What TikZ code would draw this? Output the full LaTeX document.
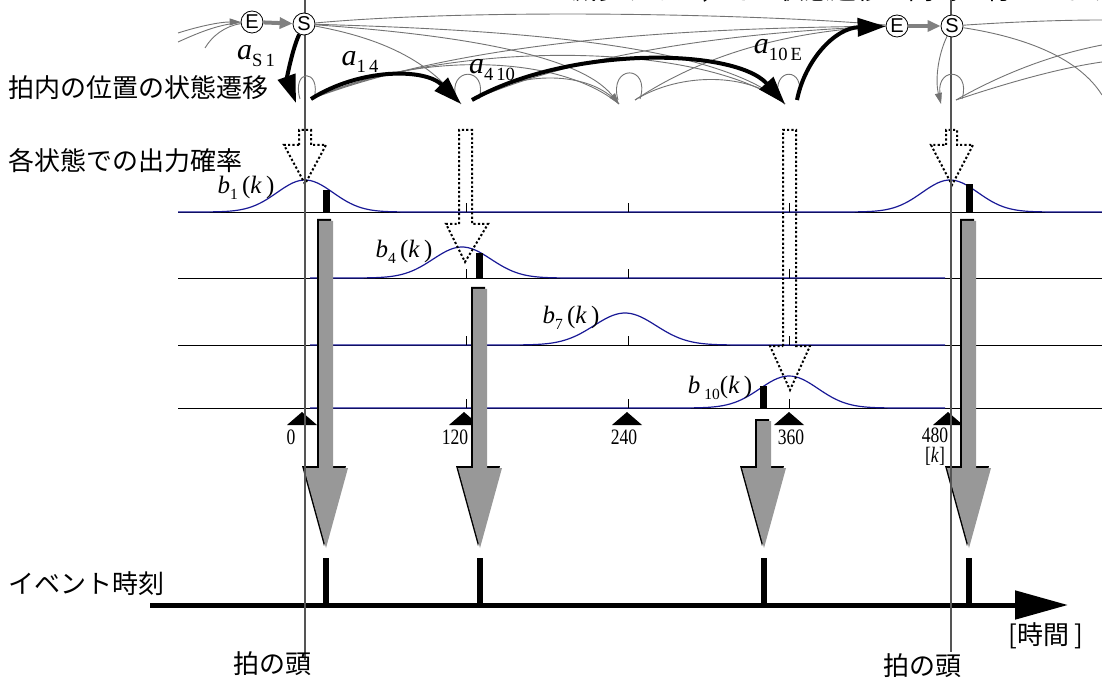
\documentclass[tikz,border=0pt]{standalone}
\usepackage{fontspec}
\setmainfont{Liberation Serif}
\newfontfamily\jpf{Noto Sans CJK JP}
\newfontfamily\sansf{Liberation Sans}
\usetikzlibrary{arrows.meta}
\definecolor{bcurve}{RGB}{25,25,150}
\definecolor{bigg}{RGB}{152,152,152}
\definecolor{thing}{RGB}{115,115,115}
\definecolor{beatc}{RGB}{85,85,85}
\definecolor{esg}{RGB}{128,128,128}
\newcommand\BigGrayArrow[2]{%
 \fill[black] ({#1-9},{#2-2}) -- ({#1+5},{#2-2}) -- ({#1+5},466) -- ({#1+20},466) -- ({#1-2},546) -- ({#1-24},466) -- ({#1-9},466) -- cycle;
 \fill[bigg] ({#1-7},#2) -- ({#1+7},#2) -- ({#1+7},468) -- ({#1+22},468) -- (#1,548) -- ({#1-22},468) -- ({#1-7},468) -- cycle;}
\newcommand\iv[1]{\textit{#1}}
\newcommand\sbs[1]{\raisebox{-0.25em}{\fontsize{0.62em}{0.62em}\selectfont #1}}
\begin{document}
\begin{tikzpicture}[x=1pt,y=-1pt,
  jp/.style={font=\jpf\fontsize{26pt}{26pt}\selectfont,inner sep=0pt},
  lbl/.style={font=\fontsize{22pt}{22pt}\selectfont,inner sep=0pt,xscale=0.8},
  bl/.style={font=\fontsize{25pt}{25pt}\selectfont,inner sep=0pt},
  al/.style={font=\fontsize{30pt}{30pt}\selectfont,inner sep=0pt},
  st/.style={circle,draw,fill=white,inner sep=0pt,minimum size=22pt,line width=0.8pt,font=\sansf\fontsize{20pt}{20pt}\selectfont},
  thk/.style={line width=4pt,-{Triangle[length=28pt,width=18pt]}},
  thn/.style={thing,line width=0.9pt},
  thna/.style={thn,-{Triangle[length=11pt,width=7pt]}},
  esarr/.style={esg,line width=4pt,-{Triangle[length=13pt,width=11pt]}},
  row/.style={black,line width=0.9pt},
  gc/.style={bcurve,line width=1.2pt},
  dotarr/.style={line width=2pt,dash pattern=on 2.2pt off 2.2pt},
  beat/.style={beatc,line width=1.6pt},
]
\useasboundingbox (0,0) rectangle (1102,684);

% clipped top text
\node[jp,anchor=base west] (toptext) at (545,0) {と減少すると，その状態遷移が同時に行われます。};

% rows
\foreach \yy in {212,278,345,408} \draw[row] (178,\yy) -- (1102,\yy);
\draw[gc] (178,212) -- plot[domain=180:430,samples=70] (\x,{212-32*exp(-0.5*((\x-305)/28)*((\x-305)/28))})
  -- plot[domain=825:1075,samples=70] (\x,{212-32*exp(-0.5*((\x-950)/28)*((\x-950)/28))}) -- (1102,212);
\draw[gc] (310,278) -- plot[domain=335:590,samples=70] (\x,{278-31*exp(-0.5*((\x-462)/29)*((\x-462)/29))}) -- (945,278);
\draw[gc] (310,345) -- plot[domain=500:750,samples=70] (\x,{345-32*exp(-0.5*((\x-625)/31)*((\x-625)/31))}) -- (945,345);
\draw[gc] (310,408) -- plot[domain=665:915,samples=70] (\x,{408-32*exp(-0.5*((\x-789)/29)*((\x-789)/29))}) -- (945,408);
\foreach \yy in {212,278,345,408} \foreach \xx in {466,628,789} \draw[line width=0.8pt] (\xx,\yy) -- (\xx,{\yy-9});

% observation bars
\fill (323,190) rectangle (330,212);
\fill (476,253) rectangle (483,278);
\fill (760,386) rectangle (767,408);
\fill (966,184) rectangle (973,212);

% labels b
\node[bl] (b1) at (246,188) {\iv{b}\sbs{1}\,(\iv{k}\,)};
\node[bl] (b4) at (404,252) {\iv{b}\sbs{4}\,(\iv{k}\,)};
\node[bl] (b7) at (571,318) {\iv{b}\sbs{7}\,(\iv{k}\,)};
\node[bl] (b10) at (720,388) {\iv{b}\,\sbs{10}(\iv{k}\,)};

% triangles and tick labels
\foreach \xx in {302,464,627,789,948} \fill ({\xx-15},425) -- (\xx,412) -- ({\xx+15},425) -- cycle;
\node[lbl] (n0) at (291,437) {0};
\node[lbl] (n120) at (455,437) {120};
\node[lbl] (n240) at (624,437) {240};
\node[lbl] (n360) at (791,437) {360};
\node[lbl] (n480) at (935,435) {480};
\node[lbl] (nk) at (935,456) {[\iv{k}]};

% dotted arrows
\draw[dotarr] (299,145) -- (299,130) -- (311,130) -- (311,145) -- (326,145) -- (305,184) -- (284,145) -- cycle;
\draw[dotarr] (459,224) -- (459,130) -- (472,130) -- (472,224) -- (488,224) -- (465,262) -- (446,224) -- cycle;
\draw[dotarr] (783,346) -- (783,130) -- (796,130) -- (796,346) -- (810,346) -- (790,390) -- (770,346) -- cycle;
\draw[dotarr] (946,145) -- (946,130) -- (957,130) -- (957,145) -- (973,145) -- (952,185) -- (931,145) -- cycle;

% big grey arrows
\BigGrayArrow{326}{221}
\BigGrayArrow{480}{289}
\BigGrayArrow{764}{421}
\BigGrayArrow{969}{221}

% time axis
\coordinate (axL) at (150,605);
\coordinate (axR) at (1068,605);
\draw[line width=5pt,-{Triangle[length=53pt,width=28pt]}] (axL) -- (axR);
\foreach \xx in {326,480,764,969} \fill ({\xx-3},558) rectangle ({\xx+3},605);

% beat lines
\coordinate (bt1) at (305,0); \coordinate (bb1) at (305,660);
\coordinate (bt2) at (951,0); \coordinate (bb2) at (951,652);
\draw[beat] (bt1) -- (bb1);
\draw[beat] (bt2) -- (bb2);

% text labels
\node[jp,anchor=west] (lab1) at (8,88) {拍内の位置の状態遷移};
\node[jp,anchor=west] (lab2) at (8,161) {各状態での出力確率};
\node[jp,anchor=west] (lab3) at (8,584) {イベント時刻};
\node[jp] (head1) at (272,664) {拍の頭};
\node[jp] (head2) at (922,666) {拍の頭};
\node[jp,anchor=west] (tunit) at (1008,636) {[時間 ]};

% state coordinates
\coordinate (in1) at (296,103); \coordinate (out1) at (311,99);
\coordinate (in4) at (461,104); \coordinate (out4) at (472,100);
\coordinate (in7) at (619,104); \coordinate (out7) at (635,100);
\coordinate (in10) at (785,104); \coordinate (out10) at (797,100);
\coordinate (in1b) at (941,104); \coordinate (out1b) at (956,100);

% E/S nodes
\node[st] (E1) at (252,22) {E};
\node[st] (S1) at (304,24) {S};
\node[st] (E2) at (897,26) {E};
\node[st] (S2) at (952,26) {S};
\draw[esarr] (E1) -- (S1);
\draw[esarr] (E2) -- (S2);

% thin grey transitions
\draw[thn] (S1) .. controls (480,8) and (760,14) .. (E2);
\draw[thn] (S1) .. controls (380,38) and (430,60) .. (in4);
\draw[thna] (S1) .. controls (460,35) and (580,55) .. (in7);
\draw[thn] (S1) .. controls (520,30) and (720,45) .. (in10);
\draw[thn] (out1) .. controls (420,50) and (560,55) .. (in7);
\draw[thn] (out1) .. controls (450,40) and (700,40) .. (in10);
\draw[thn] (out1) .. controls (480,35) and (720,28) .. (E2);
\draw[thn] (out4) .. controls (520,70) and (590,70) .. (in7);
\draw[thn] (out4) .. controls (600,45) and (780,30) .. (E2);
\draw[thn] (out7) .. controls (680,72) and (750,72) .. (in10);
\draw[thn] (out7) .. controls (710,50) and (800,30) .. (E2);
\coordinate (lA) at (178,33); \coordinate (lB) at (178,42); \coordinate (lC) at (205,48);
\draw[thna] (lA) .. controls (200,26) and (220,22) .. (E1);
\draw[thn] (lB) .. controls (200,32) and (220,24) .. (E1);
\draw[thn] (lC) .. controls (212,36) and (225,26) .. (E1);
\coordinate (rA) at (1102,20); \coordinate (rB) at (1102,95);
\coordinate (rC) at (1102,45); \coordinate (rD) at (1102,62);
\draw[thn] (S2) .. controls (1010,22) and (1060,20) .. (rA);
\draw[thn] (S2) .. controls (1030,38) and (1080,60) .. (rB);
\draw[thn] (out1b) .. controls (1000,75) and (1050,55) .. (rC);
\draw[thn] (out1b) .. controls (1010,82) and (1060,68) .. (rD);
\draw[thna] (S2) .. controls (938,55) and (935,80) .. (in1b);

% self loops
\coordinate (lp1a) at (300,99); \coordinate (lp1b) at (314,99);
\coordinate (lp4a) at (456,99); \coordinate (lp4b) at (479,99);
\coordinate (lp7a) at (618,100); \coordinate (lp7b) at (640,99);
\coordinate (lp10a) at (779,99); \coordinate (lp10b) at (798,99);
\coordinate (lp1c) at (941,99); \coordinate (lp1d) at (962,99);
\draw[thn] (lp1a) .. controls (291,68) and (322,68) .. (lp1b);
\draw[thn] (lp4a) .. controls (447,66) and (489,66) .. (lp4b);
\draw[thn] (lp7a) .. controls (608,64) and (651,64) .. (lp7b);
\draw[thn] (lp10a) .. controls (770,66) and (808,66) .. (lp10b);
\draw[thn] (lp1c) .. controls (932,66) and (972,66) .. (lp1d);

% thick transitions
\draw[thk] (S1) .. controls (292,50) and (287,78) .. (in1);
\draw[thk] (out1) .. controls (360,68) and (425,68) .. (in4);
\draw[thk] (out4) .. controls (570,45) and (735,48) .. (in10);
\draw[thk] (out10) .. controls (805,60) and (835,28) .. (E2);

% transition labels
\node[al] (aS1) at (256,56) {\iv{a}\sbs{S\,1}};
\node[al] (a14) at (360,62) {\iv{a}\sbs{1\,4}};
\node[al] (a410) at (492,70) {\iv{a}\sbs{4\,10}};
\node[al] (a10E) at (778,50) {\iv{a}\sbs{10\,E}};
\end{tikzpicture}
\end{document}
